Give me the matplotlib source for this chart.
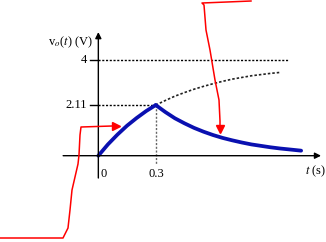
"""Step response sketch: v_o(t) charging to 2.11 V then decaying."""

import matplotlib
matplotlib.use('Agg')
import matplotlib.pyplot as plt

BLUE = '#0a10b0'
RED = '#ff0000'
INK = '#000000'

# values
t_rise = [0.0, 0.05, 0.1, 0.15, 0.2, 0.25, 0.3]
v_rise = [0.0, 0.47, 0.88, 1.25, 1.57, 1.86, 2.11]

t_cont = [0.3, 0.35, 0.4, 0.45, 0.5, 0.55, 0.6, 0.65, 0.7, 0.75, 0.8,
          0.85, 0.9, 0.95]
v_cont = [2.11, 2.30, 2.48, 2.63, 2.77, 2.89, 3.00, 3.10, 3.19, 3.26, 3.33,
          3.38, 3.43, 3.47]

t_decay = [0.3, 0.35, 0.4, 0.45, 0.5, 0.55, 0.6, 0.65, 0.7, 0.75, 0.8,
           0.85, 0.9, 0.95, 1.0, 1.06]
v_decay = [2.11, 1.82, 1.56, 1.35, 1.16, 1.00, 0.86, 0.74, 0.64, 0.55, 0.47,
           0.41, 0.35, 0.30, 0.26, 0.21]

v_final = 4
v_peak = 2.11
t_switch = 0.3
y_ticks = [4, 2.11]
y_tick_labels = ['4', '2.11']
x_ticks = [0, 0.3]
x_tick_labels = ['0', '0.3']

# hand drawn red pointer strokes (pixel space of the image)
pen1_x = [0, 63, 68, 70, 72, 78, 79, 80, 81, 112]
pen1_y = [238, 238, 228, 210, 190, 164, 155, 135, 127, 126]
pen2_x = [251, 227, 202, 204, 206, 210, 215, 219, 220, 220]
pen2_y = [1, 2, 3, 5, 30, 50, 80, 100, 121, 126]


def main():
    plt.rcParams['mathtext.fontset'] = 'stix'
    fig = plt.figure(figsize=(3.26, 2.42), dpi=100, facecolor='white')
    ax = fig.add_axes([0, 0, 1, 1])
    ax.set_xlim(-0.514, 1.190)
    ax.set_ylim(-3.596, 6.4875)
    ax.axis('off')

    # axes with arrow heads
    ax.annotate('', xy=(1.164, 0), xytext=(-0.184, 0),
                arrowprops=dict(arrowstyle='-|>', color=INK, lw=1.0,
                                mutation_scale=9, shrinkA=0, shrinkB=0))
    ax.annotate('', xy=(0, 5.15), xytext=(0, -0.93),
                arrowprops=dict(arrowstyle='-|>', color=INK, lw=1.0,
                                mutation_scale=9, shrinkA=0, shrinkB=0))

    # dotted guides
    ax.plot([0, 0.99], [v_final, v_final], color=INK, lw=1.0,
            linestyle=(0, (1.5, 1.2)))
    ax.plot([0, t_switch], [v_peak, v_peak], color=INK, lw=1.0,
            linestyle=(0, (1.5, 1.2)))
    ax.plot([t_switch, t_switch], [v_peak, -0.38], color='#666666', lw=1.0,
            linestyle=(0, (1.5, 1.2)))
    ax.plot(t_cont, v_cont, color='#222222', lw=1.2,
            linestyle=(0, (1.5, 1.2)))

    # response
    ax.plot(t_rise, v_rise, color=BLUE, lw=2.7, solid_capstyle='round')
    ax.plot(t_decay, v_decay, color=BLUE, lw=2.7, solid_capstyle='round')

    # ticks and labels
    for v, lab in zip(y_ticks, y_tick_labels):
        ax.plot([-0.043, 0], [v, v], color=INK, lw=1.0)
        ax.text(-0.057, v, lab, ha='right', va='center', fontsize=9,
                family='Liberation Serif')
    for t, lab in zip(x_ticks, x_tick_labels):
        ha = 'left' if t == 0 else 'center'
        ax.text(t + (0.012 if t == 0 else 0.003), -0.78, lab, ha=ha,
                va='center', fontsize=9, family='Liberation Serif')
    ax.text(1.135, -0.66, r'$t$ (s)', ha='center', va='center', fontsize=9,
            family='Liberation Serif')
    ax.text(-0.143, 4.72, r'v$_{o}$($t$) (V)', ha='center', va='center',
            fontsize=9, family='Liberation Serif')

    # red pen overlay in pixel space
    ov = fig.add_axes([0, 0, 1, 1])
    ov.set_xlim(0, 326)
    ov.set_ylim(242, 0)
    ov.axis('off')
    ov.patch.set_alpha(0)
    ov.plot(pen1_x, pen1_y, color=RED, lw=1.1)
    ov.plot([pen1_x[-1] + 4], [pen1_y[-1]], marker='>', color=RED,
            markersize=6, linestyle='none')
    ov.plot(pen2_x, pen2_y, color=RED, lw=1.1)
    ov.plot([pen2_x[-1]], [pen2_y[-1] + 3], marker='v', color=RED,
            markersize=6, linestyle='none')

    fig.savefig('out.png', dpi=100, facecolor='white')
    plt.close(fig)


if __name__ == "__main__":
    main()
